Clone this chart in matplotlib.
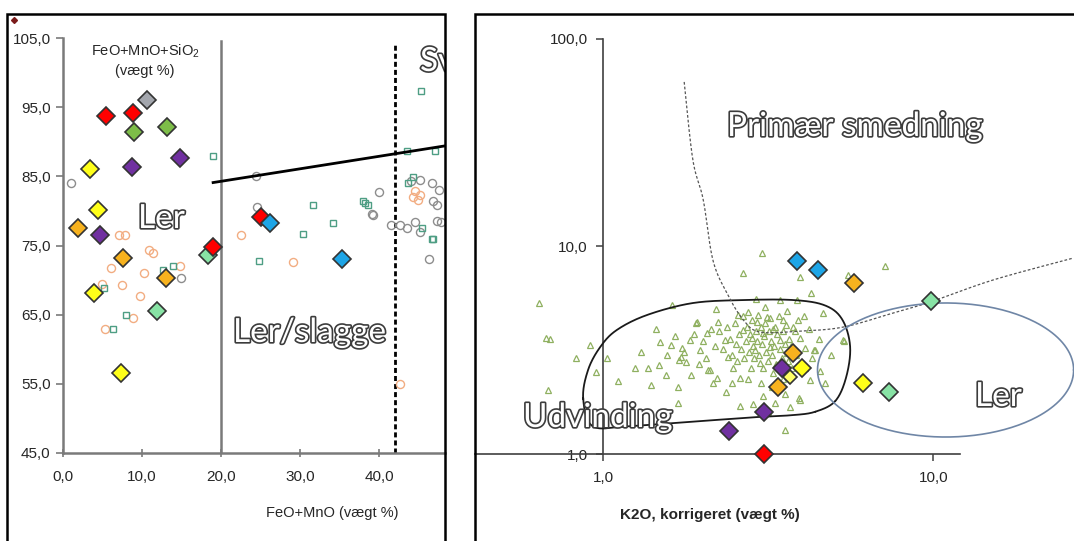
import numpy as np
import matplotlib
matplotlib.use('Agg')
import matplotlib.pyplot as plt
from matplotlib import patheffects
from matplotlib.ticker import FixedLocator, NullLocator, FuncFormatter

plt.rcParams['font.family'] = ['Liberation Sans', 'DejaVu Sans']
plt.rcParams['mathtext.fontset'] = 'custom'
plt.rcParams['mathtext.rm'] = 'Liberation Sans'
plt.rcParams['mathtext.default'] = 'regular'

# ---- venstre diagram: FeO+MnO mod FeO+MnO+SiO2 (vægt %) ----
red_fe = [5.4, 8.9, 19.0, 25.1]
red_si = [93.7, 94.2, 74.8, 79.1]
gray_fe = [10.6]
gray_si = [96.0]
green_fe = [9.0, 13.2]
green_si = [91.4, 92.1]
purple_fe = [14.8, 8.7, 4.7]
purple_si = [87.7, 86.3, 76.5]
yellow_fe = [3.4, 4.4, 3.9, 7.3]
yellow_si = [86.1, 80.2, 68.1, 56.6]
orange_fe = [1.9, 7.6, 13.0]
orange_si = [77.5, 73.2, 70.3]
lgreen_fe = [11.9, 18.4]
lgreen_si = [65.6, 73.6]
blue_fe = [26.2, 35.3]
blue_si = [78.2, 73.0]

# reference materiale, hule symboler
ref_o_fe = [7.1, 7.8, 10.9, 11.4, 6.1, 10.2, 14.8, 7.5, 4.9, 9.8, 8.8, 5.3,
            22.5, 29.1, 42.7, 44.3, 44.9, 44.5, 45.2]
ref_o_si = [76.5, 76.5, 74.3, 73.9, 71.7, 71.0, 72.0, 69.3, 69.4, 67.7, 64.5, 63.0,
            76.5, 72.6, 55.0, 82.0, 81.6, 82.9, 82.3]
ref_g_fe = [1.0, 24.4, 40.0, 14.9, 24.6, 39.1, 41.5, 42.7, 43.5, 44.6, 45.2, 46.3,
            47.3, 47.3, 45.2, 46.7, 46.8, 47.6, 44.1, 39.2, 47.8]
ref_g_si = [84.1, 85.1, 82.8, 70.3, 80.6, 79.5, 77.9, 77.9, 77.5, 78.4, 77.0, 73.1,
            78.6, 80.8, 84.4, 84.1, 81.5, 83.0, 84.3, 79.4, 78.4]
ref_s_fe = [19.0, 45.3, 43.5, 47.1, 44.3, 43.7, 38.0, 12.7, 13.9, 5.2, 8.0, 6.3,
            31.6, 34.2, 30.4, 24.8, 38.6, 46.8, 45.4, 46.7, 38.2]
ref_s_si = [88.0, 97.4, 88.6, 88.6, 84.9, 84.0, 81.5, 71.4, 72.1, 68.8, 64.9, 63.0,
            80.8, 78.2, 76.7, 72.7, 80.8, 75.9, 77.6, 76.0, 81.2]

# skillelinjer
limit_fe = [19.0, 50.0]
limit_si = [84.1, 89.7]

# ---- højre diagram: K2O korrigeret (log-log) ----
blue_k = [3.87, 4.48]
blue_r = [8.51, 7.71]
orange_k = [5.77, 3.77, 3.39]
orange_r = [6.67, 3.07, 2.10]
lgreen_k = [9.86, 7.36]
lgreen_r = [5.46, 1.99]
purple_k = [3.48, 3.08, 2.41]
purple_r = [2.60, 1.59, 1.29]
yellow_k = [4.01, 6.14]
yellow_r = [2.60, 2.20]
pyellow_k = [3.69]
pyellow_r = [2.35]
red_k = [3.08]
red_r = [1.0]

tri_k = [0.64, 0.67, 0.69, 0.68, 0.83, 0.91, 0.95, 1.03, 1.11, 1.37, 1.48, 1.49,
         1.60, 1.62, 1.69, 1.69, 1.72, 1.73, 1.78, 1.91, 1.97, 2.07, 2.08, 2.21,
         2.23, 2.66, 3.03, 3.95, 4.27, 4.64, 3.43, 3.87, 5.37, 4.70, 4.36, 3.93,
         3.68, 3.55, 3.32, 7.15, 5.53, 1.70, 1.83, 1.93, 2.11, 2.34, 2.39, 2.48,
         2.60, 2.57, 2.66, 2.75, 2.83, 2.89, 2.92, 2.99, 3.05, 3.14, 3.20, 3.27,
         3.32, 3.43, 3.51, 3.61, 3.77, 3.95, 4.09, 4.39, 4.24, 3.95, 5.33,
         2.25, 2.30, 2.38, 2.42, 2.45, 2.50, 2.52, 2.55, 2.58, 2.62, 2.65, 2.68,
         2.70, 2.72, 2.76, 2.78, 2.80, 2.82, 2.85, 2.87, 2.90, 2.93, 2.95, 2.97,
         3.00, 3.02, 3.04, 3.07, 3.10, 3.12, 3.15, 3.17, 3.20, 3.22, 3.25, 3.28,
         3.30, 3.34, 3.36, 3.40, 3.44, 3.47, 3.50, 3.55, 3.58, 3.63, 3.66, 3.70,
         3.74, 3.80, 3.85, 3.90, 2.00, 2.05, 2.12, 2.18, 1.88, 1.95, 1.56, 1.65,
         1.76, 1.85, 2.15, 2.45, 2.75, 3.00, 3.25, 3.50, 3.55, 3.05, 4.10, 4.30,
         4.50, 4.20, 4.90, 4.55, 2.20, 2.90, 3.60, 3.10, 4.05, 1.45, 1.30, 1.55,
         1.25, 1.40, 2.35, 2.85, 3.15, 2.60]
tri_r = [5.34, 3.62, 3.58, 2.03, 2.90, 3.35, 2.48, 2.90, 2.25, 2.60, 2.69, 3.47,
         3.35, 5.22, 1.76, 2.10, 2.93, 3.24, 2.78, 4.28, 3.17, 3.83, 2.54, 2.32,
         4.33, 7.45, 9.31, 7.13, 5.97, 4.78, 5.53, 5.53, 3.51, 2.20, 3.17, 1.86,
         1.69, 1.30, 1.76, 8.05, 7.31, 2.84, 3.54, 4.33, 2.54, 3.54, 2.93, 2.60,
         2.32, 4.67, 3.96, 4.84, 3.62, 3.17, 4.33, 2.74, 3.83, 4.57, 3.28, 2.45,
         4.10, 3.54, 4.42, 3.07, 4.10, 3.62, 3.24, 3.17, 2.27, 1.82, 3.54,
         3.90, 3.20, 4.10, 3.60, 3.00, 4.30, 3.40, 2.80, 3.80, 3.20, 4.60, 2.90,
         3.50, 4.10, 3.10, 3.80, 2.60, 4.40, 3.30, 2.90, 3.90, 3.50, 4.70, 3.00,
         4.10, 3.40, 2.60, 3.70, 4.30, 3.10, 2.80, 3.90, 4.50, 3.50, 3.00, 4.00,
         3.30, 2.70, 3.80, 4.60, 3.20, 2.90, 3.90, 3.40, 4.20, 2.80, 3.60, 3.30,
         2.60, 3.90, 3.00, 4.40, 3.50, 2.90, 4.00, 3.30, 3.80, 2.70, 3.00, 3.70,
         3.10, 2.40, 2.20, 2.20, 2.30, 2.20, 2.10, 2.30, 1.95, 1.90, 2.60, 2.90,
         3.60, 4.00, 3.00, 2.50, 5.00, 5.60, 4.90, 5.10, 4.60, 4.00, 3.10, 2.40,
         2.60, 2.15, 2.00, 1.75, 1.60, 1.70]

# omrade "Udvinding"
udv_k = [0.87, 0.90, 0.98, 1.10, 1.36, 1.87, 2.66, 3.77, 4.70, 5.30, 5.60, 5.45,
         5.05, 4.40, 3.77, 2.99, 1.63, 1.18, 0.93]
udv_r = [1.85, 2.54, 3.28, 3.96, 4.68, 5.34, 5.52, 5.52, 5.20, 4.45, 3.30, 2.35,
         1.80, 1.60, 1.54, 1.51, 1.41, 1.36, 1.36]
# graense mod primaer smedning
lim_k = [1.76, 1.87, 2.01, 2.15, 2.37, 2.66, 2.99, 3.95, 5.34, 7.56, 9.79, 15.2, 26.6]
lim_r = [62.1, 26.1, 16.8, 8.61, 5.97, 4.42, 3.87, 3.91, 4.09, 4.78, 5.40, 6.90, 8.80]
# ellipse "Ler" (centrum og halvakser i dekader)
ler_center = (10.9, 2.54)
ler_axes = (0.388, 0.323)


def spline(xs, ys, closed=False, n=24):
    # Catmull-Rom gennem punkterne, beregnet i log-rum
    p = np.column_stack([np.log10(xs), np.log10(ys)])
    if closed:
        p = np.vstack([p[-1], p, p[0], p[1]])
    else:
        p = np.vstack([p[0], p, p[-1]])
    t = np.linspace(0, 1, n)[:, None]
    out = []
    for i in range(1, len(p) - 2):
        p0, p1, p2, p3 = p[i - 1], p[i], p[i + 1], p[i + 2]
        seg = 0.5 * ((2 * p1) + (-p0 + p2) * t + (2 * p0 - 5 * p1 + 4 * p2 - p3) * t ** 2
                     + (-p0 + 3 * p1 - 3 * p2 + p3) * t ** 3)
        out.append(seg)
    out = np.vstack(out)
    return 10 ** out[:, 0], 10 ** out[:, 1]


W, H = 1074, 541
fig = plt.figure(figsize=(W / 100, H / 100), dpi=100)

comma = FuncFormatter(lambda v, _: f"{v:.1f}".replace('.', ','))
outline = [patheffects.withStroke(linewidth=2.4, foreground='#3c3c3c')]
edge = '#333333'


def diamonds(ax, x, y, color, ms=9.2):
    ax.plot(x, y, 'D', ms=ms, mfc=color, mec=edge, mew=1.2, ls='none',
            clip_on=False, zorder=5)


# venstre
ax1 = fig.add_axes([63 / W, 1 - 453 / H, (445 - 63) / W, (453 - 38) / H])
ax1.set_xlim(0, 48.35)
ax1.set_ylim(45, 105)
for s in ['top', 'right']:
    ax1.spines[s].set_visible(False)
for s in ['left', 'bottom']:
    ax1.spines[s].set_color('#7a7a7a')
    ax1.spines[s].set_linewidth(1.8)
ax1.set_xticks([0, 10, 20, 30, 40])
ax1.set_yticks([45, 55, 65, 75, 85, 95, 105])
ax1.xaxis.set_major_formatter(comma)
ax1.yaxis.set_major_formatter(comma)
ax1.tick_params(axis='x', direction='inout', length=6, width=1.2, color='#7a7a7a',
                labelsize=11, pad=9, labelcolor='#262626')
ax1.tick_params(axis='y', direction='out', length=5, width=1.2, color='#7a7a7a',
                labelsize=11, pad=4, labelcolor='#262626')

ax1.plot(ref_o_fe, ref_o_si, 'o', ms=5.8, mfc='none', mec='#f2ad82', mew=1.0, zorder=2)
ax1.plot(ref_g_fe, ref_g_si, 'o', ms=5.8, mfc='none', mec='#8d8d8d', mew=1.0, zorder=2)
ax1.plot(ref_s_fe, ref_s_si, 's', ms=5.0, mfc='none', mec='#4e9e84', mew=1.0, zorder=2)

ax1.axvline(20, ymax=(104.5 - 45) / 60, color='#7a7a7a', lw=1.8, zorder=1)
ax1.axvline(42, ymax=(104.0 - 45) / 60, color='black', lw=2.0, ls=(0, (1.8, 1.1)), zorder=1)
ax1.plot(limit_fe, limit_si, color='black', lw=2.0, zorder=3)

diamonds(ax1, gray_fe, gray_si, '#a3a6ad')
diamonds(ax1, green_fe, green_si, '#7dbd48')
diamonds(ax1, purple_fe, purple_si, '#7030a0')
diamonds(ax1, yellow_fe, yellow_si, '#ffff1a')
diamonds(ax1, orange_fe, orange_si, '#f7b21e')
diamonds(ax1, lgreen_fe, lgreen_si, '#88e3a5')
diamonds(ax1, red_fe, red_si, '#ff0000')
diamonds(ax1, blue_fe, blue_si, '#1ea5e6')

big = dict(fontsize=24, color='white', va='center', ha='left', family=['Lato', 'DejaVu Sans'],
           path_effects=outline, zorder=6)
fig.text(138 / W, 1 - 219 / H, 'Ler', **big)
fig.text(233 / W, 1 - 333 / H, 'Ler/slagge', **big)
ax1.text(420 / W, 1 - 62 / H, 'Sv', transform=fig.transFigure, clip_on=True, **big)

fig.text(145 / W, 1 - 51 / H, 'FeO+MnO+SiO$_2$', ha='center', va='center',
         fontsize=10.5, color='#262626')
fig.text(145 / W, 1 - 71 / H, '(vægt %)', ha='center', va='center',
         fontsize=10.5, color='#262626')
fig.text(332 / W, 1 - 513 / H, 'FeO+MnO (vægt %)', ha='center', va='center',
         fontsize=10.5, color='#262626')

# højre
ax2 = fig.add_axes([475 / W, 1 - 454 / H, (1074 - 475) / W, (454 - 39) / H])
ax2.set_xscale('log')
ax2.set_yscale('log')
ax2.set_xlim(0.409, 26.7)
ax2.set_ylim(1, 100)
ax2.patch.set_alpha(0)
for s in ['top', 'right']:
    ax2.spines[s].set_visible(False)
ax2.spines['left'].set_position(('data', 1))
ax2.spines['bottom'].set_bounds(0.409, 12.08)
for s in ['left', 'bottom']:
    ax2.spines[s].set_color('#404040')
    ax2.spines[s].set_linewidth(1.2)
ax2.xaxis.set_major_locator(FixedLocator([1, 10]))
ax2.yaxis.set_major_locator(FixedLocator([1, 10, 100]))
ax2.xaxis.set_minor_locator(NullLocator())
ax2.yaxis.set_minor_locator(NullLocator())
ax2.xaxis.set_major_formatter(comma)
ax2.yaxis.set_major_formatter(comma)
ax2.tick_params(direction='out', length=5, width=1.1, color='#404040',
                labelsize=11, labelcolor='#262626')
ax2.tick_params(axis='x', pad=7)
ax2.tick_params(axis='y', pad=6)

ax2.plot(tri_k, tri_r, '^', ms=4.6, mfc='none', mec='#8fb060', mew=0.9, zorder=2)

ux, uy = spline(udv_k, udv_r, closed=True)
ax2.plot(ux, uy, color='#1a1a1a', lw=1.3, zorder=3)
lx, ly = spline(lim_k, lim_r)
ax2.plot(lx, ly, color='#555555', lw=0.9, ls=(0, (2.2, 1.6)), zorder=3, clip_on=False)
t = np.linspace(0, 2 * np.pi, 300)
ex = 10 ** (np.log10(ler_center[0]) + ler_axes[0] * np.cos(t))
ey = 10 ** (np.log10(ler_center[1]) + ler_axes[1] * np.sin(t))
ax2.plot(ex, ey, color='#6f86a6', lw=1.2, zorder=3, clip_on=False)

diamonds(ax2, blue_k, blue_r, '#1ea5e6')
diamonds(ax2, orange_k, orange_r, '#f7b21e')
diamonds(ax2, lgreen_k, lgreen_r, '#88e3a5')
diamonds(ax2, yellow_k, yellow_r, '#ffff1a')
diamonds(ax2, pyellow_k, pyellow_r, '#ffff66', ms=7)
diamonds(ax2, purple_k, purple_r, '#7030a0')
diamonds(ax2, red_k, red_r, '#ff0000')

fig.text(727 / W, 1 - 127 / H, 'Primær smedning', **big)
fig.text(523 / W, 1 - 418 / H, 'Udvinding', **big)
fig.text(975 / W, 1 - 397 / H, 'Ler', **big)
fig.text(710 / W, 1 - 515 / H, 'K2O, korrigeret (vægt %)', ha='center', va='center',
         fontsize=11, fontweight='bold', color='#262626')

# rammer om de to diagrammer
for x0, x1 in [(7, 445), (475, 1080)]:
    fig.patches.append(plt.Rectangle((x0 / W, -0.02), (x1 - x0) / W, 1.02 - 14 / H,
                                     transform=fig.transFigure, fill=False,
                                     ec='black', lw=1.8, zorder=10))
fig.add_artist(plt.Line2D([14 / W], [1 - 20 / H], marker='D', ms=3,
                          color='#7b1a1a', transform=fig.transFigure))

fig.savefig('out.png', dpi=100)
